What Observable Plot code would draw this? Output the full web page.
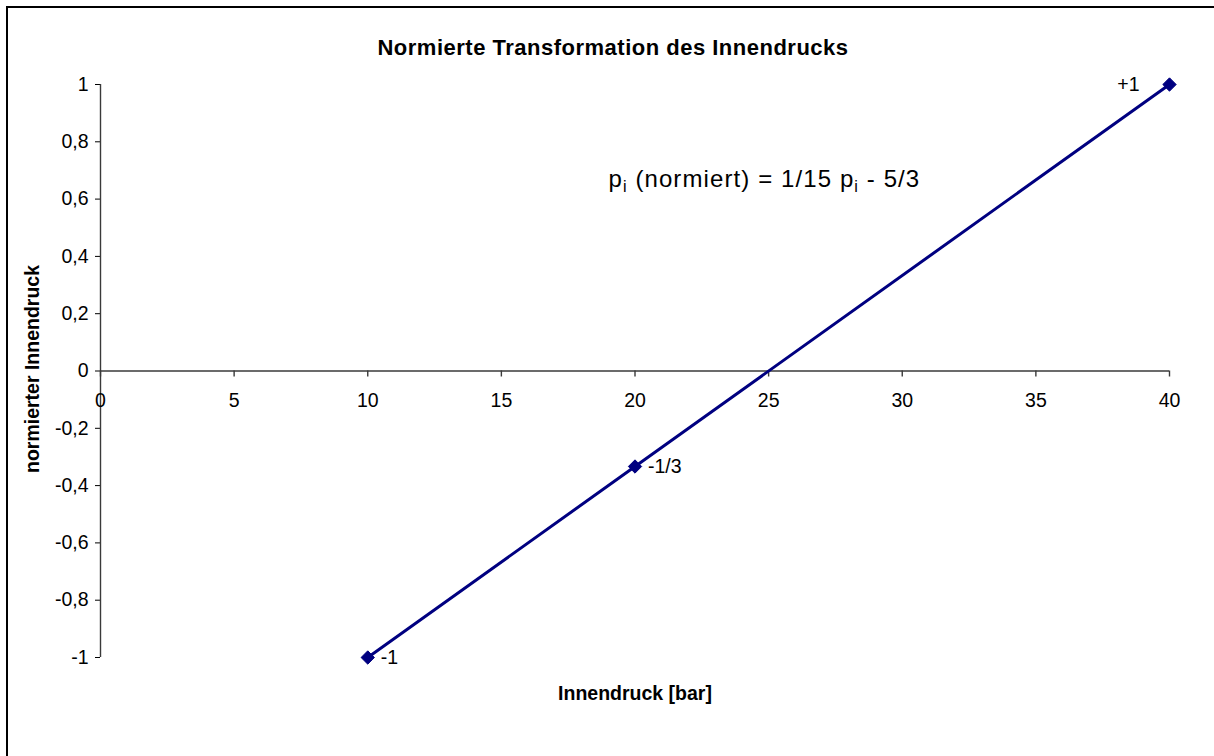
<!DOCTYPE html>
<html>
<head>
<meta charset="utf-8">
<script src="https://cdn.jsdelivr.net/npm/d3@7"></script>
<script src="https://cdn.jsdelivr.net/npm/@observablehq/plot@0.6"></script>
<style>
  html, body { margin: 0; padding: 0; background: #fff; overflow: hidden; }
  #wrap { position: relative; width: 1214px; height: 756px; overflow: hidden; }
  #border { position: absolute; left: 6px; top: 6px; width: 1400px; height: 900px;
            border-top: 2px solid #000; border-left: 2px solid #000; box-sizing: border-box; }
  #chart { position: absolute; left: 0; top: 0; }
</style>
</head>
<body>
<div id="wrap"><div id="border"></div><div id="chart"></div></div>
<script>
// Data
const pressure = [10, 20, 40];            // Innendruck [bar]
const normed = [-1, -1/3, 1];             // normierter Innendruck
const pointLabels = ["-1", "-1/3", "+1"];
const xTicks = [0, 5, 10, 15, 20, 25, 30, 35, 40];
const yTicks = [-1, -0.8, -0.6, -0.4, -0.2, 0, 0.2, 0.4, 0.6, 0.8, 1];
const title = "Normierte Transformation des Innendrucks";
const xLabel = "Innendruck [bar]";
const yLabel = "normierter Innendruck";
const equation = "pi (normiert) = 1/15 pi - 5/3";

const points = pressure.map((p, i) => ({p, n: normed[i], label: pointLabels[i]}));
const font = "'Liberation Sans', Arial, Helvetica, sans-serif";
const navy = "#000080";
const axisColor = "#3a3a3a";
const fmt = d => String(+d.toFixed(1)).replace(".", ",");

const chart = Plot.plot({
  width: 1214,
  height: 756,
  marginLeft: 100,
  marginRight: 45,
  marginTop: 84,
  marginBottom: 99,
  style: {fontFamily: font, fontSize: "19.5px", color: "#000", background: "transparent", overflow: "visible"},
  x: {domain: [0, 40], axis: null},
  y: {domain: [-1, 1], ticks: yTicks, tickSize: 5, tickPadding: 7, tickFormat: fmt, label: null},
  marks: [
    // y axis line
    Plot.ruleX([0], {stroke: axisColor, strokeWidth: 1.4}),
    // x axis line at y = 0
    Plot.ruleY([0], {stroke: axisColor, strokeWidth: 1.4}),
    // x ticks (pointing down from the zero line)
    Plot.ruleX(xTicks, {x: d => d, y1: 0, y2: 0, insetBottom: -6, stroke: axisColor, strokeWidth: 1.4}),
    // x tick labels
    Plot.text(xTicks, {x: d => d, y: 0, text: d => fmt(d), lineAnchor: "top", dy: 22, fill: "#000"}),
    // data line and markers
    Plot.line(points, {x: "p", y: "n", stroke: navy, strokeWidth: 3}),
    Plot.dot(points, {x: "p", y: "n", symbol: "diamond2", r: 6, fill: navy, stroke: navy, strokeWidth: 1}),
    // data labels
    Plot.text(points.filter(d => d.label !== "+1"), {x: "p", y: "n", text: "label", textAnchor: "start", dx: 13, fill: "#000"}),
    Plot.text(points.filter(d => d.label === "+1"), {x: "p", y: "n", text: "label", textAnchor: "end", dx: -30, fill: "#000"}),
    // equation annotation
    Plot.text([equation], {frameAnchor: "top-left", text: d => d, textAnchor: "start", lineAnchor: "bottom",
      dx: 508, dy: 102, fontSize: 24, fill: "#000"}),
    // title
    Plot.text([title], {frameAnchor: "top", text: d => d, textAnchor: "middle", lineAnchor: "bottom", dx: -22, dy: -30,
      fontSize: 22, fontWeight: "bold", fill: "#000"}),
    // x label
    Plot.text([xLabel], {frameAnchor: "bottom", text: d => d, textAnchor: "middle", lineAnchor: "bottom", dy: 42,
      fontSize: 19.5, fontWeight: "bold", fill: "#000"}),
    // y label
    Plot.text([yLabel], {frameAnchor: "left", text: d => d, textAnchor: "middle", lineAnchor: "bottom", rotate: -90, dx: -62, dy: -2,
      fontSize: 19.5, fontWeight: "bold", fill: "#000"})
  ]
});

// letter spacing for title and equation; subscripts for the equation
d3.select(chart).selectAll("text").each(function () {
  const t = this.textContent;
  if (t === title) this.setAttribute("letter-spacing", "0.5");
  if (t === equation) {
    this.setAttribute("letter-spacing", "1.1");
    const parts = [["p", 0], ["i", 1], [" (normiert) = 1/15 p", 0], ["i", 1], [" - 5/3", 0]];
    this.textContent = "";
    const sel = d3.select(this);
    let shifted = false;
    for (const [s, sub] of parts) {
      const ts = sel.append("tspan").text(s);
      if (sub) { ts.attr("font-size", 16).attr("dy", 5); shifted = true; }
      else if (shifted) { ts.attr("dy", -5); shifted = false; }
    }
  }
});

document.getElementById("chart").appendChild(chart);
</script>
</body>
</html>
